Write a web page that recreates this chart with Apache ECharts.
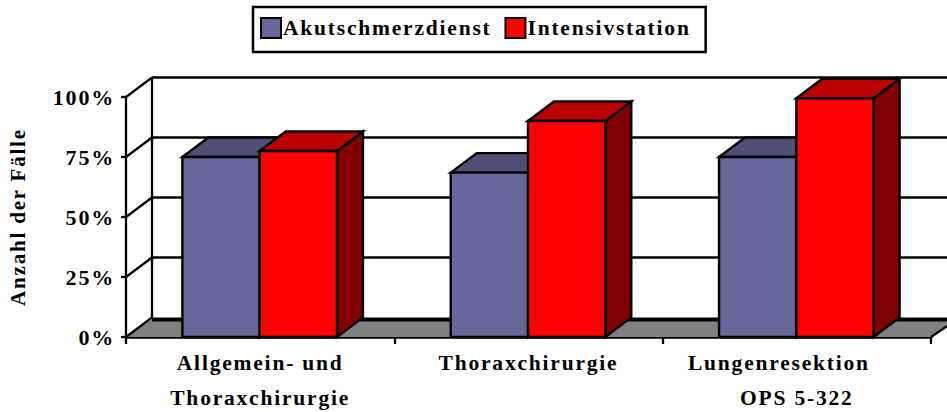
<!DOCTYPE html>
<html><head><meta charset="utf-8">
<style>html,body{margin:0;padding:0;background:#fff}#c{width:947px;height:412px}
#c svg text{letter-spacing:1.8px;white-space:pre}</style>
<script src="https://cdn.jsdelivr.net/npm/echarts@6/dist/echarts.min.js"></script>
</head><body><div id="c"></div>
<script>
const categories = ['Allgemein- und\nThoraxchirurgie', 'Thoraxchirurgie', 'Lungenresektion     \nOPS 5-322'];
const akutValues = [75, 68.5, 75];
const intensivValues = [77.5, 90, 99.5];
const yTicks = [0, 25, 50, 75, 100];
const seriesNames = ['Akutschmerzdienst', 'Intensivstation'];

const DX = 26, DY = 19.5, BAR_FRAC = 0.288;
const FONT = '"Liberation Serif"';
const chart = echarts.init(document.getElementById('c'), null, {renderer: 'svg'});
const lineStyle = {stroke: '#000', lineWidth: 2.3, fill: null};

function wallItem(params, api) {
  const v = api.value(0);
  const size = api.size([1, 0])[0];
  const p = api.coord([0, v]);
  const left = p[0] - size / 2, y = p[1];
  const right = left + categories.length * size;
  const children = [];
  if (v === yTicks[0]) {
    children.push({type: 'polygon', shape: {points: [[left, y], [left + DX, y - DY + 2], [right + DX, y - DY + 2], [right, y]]},
      style: {fill: '#808080', stroke: null}});
    children.push({type: 'line', shape: {x1: left + DX, y1: y - DY + 2, x2: right + DX, y2: y - DY + 2}, style: {stroke: '#000', lineWidth: 4}});
    children.push({type: 'line', shape: {x1: right, y1: y, x2: right + DX, y2: y - DY + 2}, style: lineStyle});
  } else {
    children.push({type: 'line', shape: {x1: left + DX, y1: y - DY, x2: right + DX, y2: y - DY}, style: lineStyle});
  }
  children.push({type: 'line', shape: {x1: left, y1: y, x2: left + DX, y2: y - DY}, style: lineStyle});
  if (v === yTicks[yTicks.length - 1]) {
    const b = api.coord([0, yTicks[0]]);
    children.push({type: 'line', shape: {x1: left + DX, y1: y - DY, x2: left + DX, y2: b[1] - DY}, style: lineStyle});
  }
  return {type: 'group', children};
}

function barItem(offsetIndex, front, top, side) {
  return function (params, api) {
    const idx = api.value(0), val = api.value(1);
    const size = api.size([1, 0])[0], w = size * BAR_FRAC;
    const c = api.coord([idx, val]), b = api.coord([idx, 0]);
    const x0 = c[0] - 0.5 - w + offsetIndex * w, x1 = x0 + w, yT = c[1], yB = b[1];
    const st = f => ({fill: f, stroke: '#000', lineWidth: 2.4, lineJoin: 'miter'});
    return {type: 'group', children: [
      {type: 'polygon', shape: {points: [[x1, yT], [x1 + DX, yT - DY], [x1 + DX, yB - DY], [x1, yB]]}, style: st(side)},
      {type: 'polygon', shape: {points: [[x0, yT], [x0 + DX, yT - DY], [x1 + DX, yT - DY], [x1, yT]]}, style: st(top)},
      {type: 'rect', shape: {x: x0, y: yT, width: w, height: yB - yT}, style: st(front)}
    ]};
  };
}

chart.setOption({
  animation: false,
  backgroundColor: '#fff',
  textStyle: {fontFamily: FONT},
  legend: {
    show: true, left: 253, top: 7, orient: 'horizontal',
    data: seriesNames,
    backgroundColor: '#fff', borderColor: '#000', borderWidth: 2.5,
    padding: [10, 42, 13, 7], itemGap: 43.5, itemWidth: 20, itemHeight: 20,
    icon: 'rect', selectedMode: false,
    itemStyle: {borderColor: '#000', borderWidth: 2},
    textStyle: {fontFamily: FONT, fontWeight: 'bold', fontSize: 21.5, color: '#000', padding: [2, 0, 0, -3]}
  },
  grid: {left: 126, right: 16, top: 97, bottom: 75, outerBoundsMode: 'none'},
  xAxis: {
    type: 'category', data: categories,
    axisLine: {lineStyle: {color: '#000', width: 2.5}},
    axisTick: {show: true, length: 7, lineStyle: {color: '#000', width: 2.3}},
    axisLabel: {fontFamily: FONT, fontWeight: 'bold', fontSize: 21.5, color: '#000', lineHeight: 35, margin: 8, interval: 0}
  },
  yAxis: {
    type: 'value', min: 0, max: 100, interval: 25,
    name: 'Anzahl der Fälle', nameLocation: 'middle', nameGap: 98, nameRotate: 90,
    nameTextStyle: {fontFamily: FONT, fontWeight: 'bold', fontSize: 21, color: '#000'},
    axisLine: {show: true, lineStyle: {color: '#000', width: 2.3}},
    axisTick: {show: true, length: 5, lineStyle: {color: '#000', width: 2.3}},
    splitLine: {show: false},
    axisLabel: {formatter: '{value}%', fontFamily: FONT, fontWeight: 'bold', fontSize: 22, color: '#000', margin: 11, padding: [0, 0, 2, 0]}
  },
  series: [
    {type: 'custom', name: 'walls', coordinateSystem: 'cartesian2d', clip: false, silent: true,
      encode: {y: 0}, data: yTicks.map(v => [v]), renderItem: wallItem, z: 1},
    {type: 'custom', name: seriesNames[0], clip: false, renderItem: barItem(0, '#666699', '#4F4F76', '#3D3D5C'),
      itemStyle: {color: '#666699'}, encode: {x: 0, y: 1}, data: akutValues.map((v, i) => [i, v]), z: 2},
    {type: 'custom', name: seriesNames[1], clip: false, renderItem: barItem(1, '#FF0000', '#BB0000', '#800000'),
      itemStyle: {color: '#FF0000'}, encode: {x: 0, y: 1}, data: intensivValues.map((v, i) => [i, v]), z: 3}
  ]
});
</script></body></html>
